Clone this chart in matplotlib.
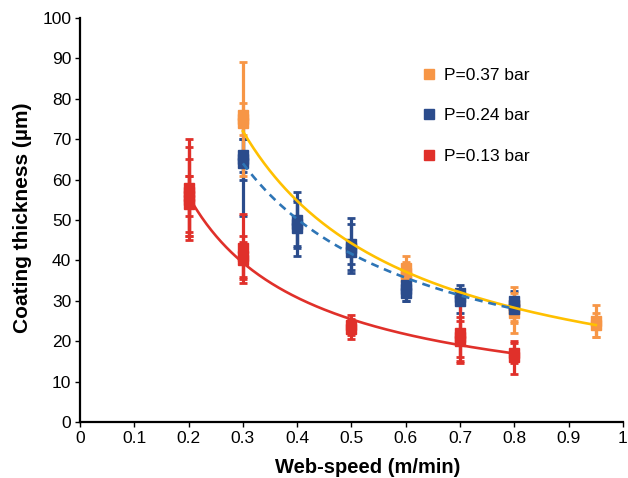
import numpy as np
import matplotlib
matplotlib.use("Agg")
import matplotlib.pyplot as plt
from matplotlib.lines import Line2D

plt.rcParams['font.family'] = ['Liberation Sans', 'DejaVu Sans']

# ---- data ----
labels = ["P=0.37 bar", "P=0.24 bar", "P=0.13 bar"]

x_hi = [0.3, 0.3, 0.3, 0.6, 0.6, 0.6, 0.8, 0.8, 0.8, 0.95, 0.95]
y_hi = [75, 76, 74, 38, 37, 36, 29, 28, 27, 25, 24]
e_hi = [14, 3, 3, 3, 2.5, 2, 4.5, 3, 5, 4, 3]

x_mid = [0.3, 0.3, 0.3, 0.4, 0.4, 0.4, 0.5, 0.5, 0.5, 0.6, 0.6, 0.6, 0.7, 0.7, 0.7, 0.8, 0.8, 0.8]
y_mid = [66, 65, 64, 50, 49, 48, 44, 43, 42, 34, 33, 32, 32, 31, 30, 30, 29, 28]
e_mid = [4, 5, 13, 7, 5.5, 7, 6.5, 6, 3, 2, 3, 2, 2, 2, 3, 2.5, 2, 1.5]

x_lo = [0.2, 0.2, 0.2, 0.2, 0.2, 0.3, 0.3, 0.3, 0.5, 0.5, 0.7, 0.7, 0.7, 0.8, 0.8]
y_lo = [58, 57, 55, 54, 56, 43, 41, 40, 24, 23, 22, 21, 20, 17, 16]
e_lo = [12, 11, 10, 7, 5, 8.5, 5, 4.5, 2.5, 2.5, 7.5, 5, 5, 2.5, 4]

# power-law trendlines y = a * x^b, with x range
fit_hi = (22.85, -0.953, 0.3, 0.95)
fit_mid = (23.2, -0.843, 0.3, 0.8)
fit_lo = (14.0, -0.86, 0.2, 0.8)

c_hi, c_mid, c_lo = "#F79646", "#2B4C8C", "#E0302A"
c_fit_hi, c_fit_mid, c_fit_lo = "#FFC000", "#2E75B6", "#E0302A"

fig = plt.figure(figsize=(6.28, 4.78), dpi=100)
ax = fig.add_axes([0.1274, 0.1172, 0.8646, 0.8451])

series = {"hi": (x_hi, y_hi, e_hi, c_hi), "mid": (x_mid, y_mid, e_mid, c_mid), "lo": (x_lo, y_lo, e_lo, c_lo)}

# error bars: blue under orange, red on top
for key, z in [("mid", 2.0), ("hi", 2.1), ("lo", 2.2)]:
    xs, ys, es, c = series[key]
    ax.errorbar(xs, ys, yerr=es, fmt='none', ecolor=c, elinewidth=2.3,
                capsize=3.2, capthick=2.0, zorder=z)
# markers
for key, z in [("hi", 3.0), ("mid", 3.1), ("lo", 3.2)]:
    xs, ys, es, c = series[key]
    ax.plot(xs, ys, 's', color=c, ms=6.5, zorder=z)

for (a, b, x0, x1), c, ls in [(fit_hi, c_fit_hi, '-'), (fit_mid, c_fit_mid, (0, (3, 2.2))), (fit_lo, c_fit_lo, '-')]:
    xx = np.linspace(x0, x1, 200)
    ax.plot(xx, a * xx ** b, color=c, lw=1.9, ls=ls, zorder=4)

ax.set_xlim(0, 1)
ax.set_ylim(0, 100)
ax.set_xticks(np.arange(0, 1.01, 0.1))
ax.set_xticklabels(["0"] + [f"{v:.1f}" for v in np.arange(0.1, 0.95, 0.1)] + ["1"])
ax.set_yticks(np.arange(0, 101, 10))
ax.tick_params(labelsize=12.5, width=1.0, length=3.8, direction='out', pad=2.5)
for s in ['top', 'right']:
    ax.spines[s].set_visible(False)
for s in ['left', 'bottom']:
    ax.spines[s].set_linewidth(1.6)

ax.set_xlabel("Web-speed (m/min)", fontsize=14.5, fontweight='bold')
ax.xaxis.set_label_coords(0.529, -0.09)
ax.set_ylabel("Coating thickness (\u00b5m)", fontsize=15, fontweight='bold')
ax.yaxis.set_label_coords(-0.088, 0.505)

handles = [Line2D([], [], marker='s', ls='none', color=c, ms=7.5) for c in (c_hi, c_mid, c_lo)]
ax.legend(handles, labels, loc='upper left', bbox_to_anchor=(0.598, 0.915), frameon=False,
          fontsize=12.5, labelspacing=1.45, handletextpad=0.35, handlelength=1.0)

fig.savefig("out.png", dpi=100)
